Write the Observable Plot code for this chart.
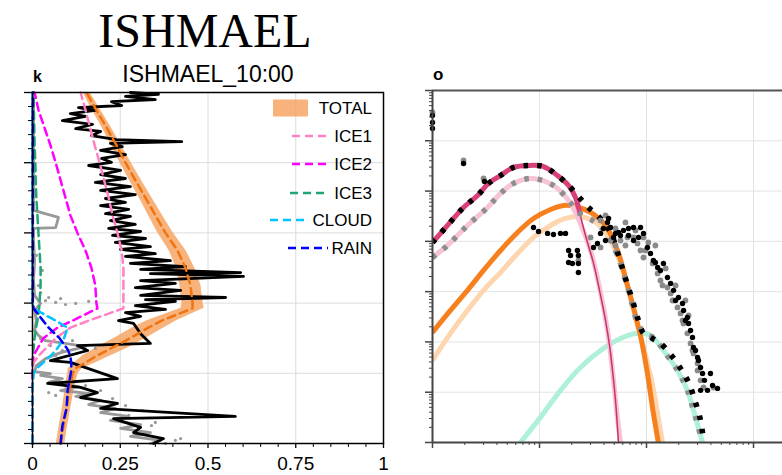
<!DOCTYPE html>
<html><head><meta charset="utf-8">
<script src="https://cdn.jsdelivr.net/npm/d3@7"></script>
<script src="https://cdn.jsdelivr.net/npm/@observablehq/plot@0.6"></script>
<style>
body{margin:0;background:#fff;}
#wrap{position:relative;width:782px;height:475px;overflow:hidden;background:#fff;}
#left{position:absolute;left:0;top:0;width:400px;height:475px;}
#right{position:absolute;left:400px;top:0;width:382px;height:475px;}
#overlay{position:absolute;left:0;top:0;pointer-events:none;}
</style></head>
<body><div id="wrap"><div id="left"></div><div id="right"></div><svg id="overlay" width="782" height="475"></svg></div>
<script>
// ---------- LEFT PANEL DATA (profiles vs level) ----------
const levels   = [0,0.5,1,1.5,2,2.14,2.3,2.5,2.7,3,3.3,3.5,3.85,4,4.5,5,5.5,6,6.5,7,7.5,8,8.5,9,9.5,10];
const totalMid = [0.080,0.088,0.097,0.105,0.115,0.122,0.150,0.183,0.222,0.278,0.330,0.368,0.456,0.456,0.450,0.436,0.413,0.379,0.350,0.322,0.293,0.265,0.239,0.211,0.182,0.154];
const totalLo  = [0.068,0.076,0.085,0.092,0.100,0.102,0.120,0.143,0.177,0.233,0.285,0.326,0.423,0.426,0.420,0.410,0.389,0.357,0.330,0.304,0.276,0.249,0.225,0.198,0.170,0.144];
const totalHi  = [0.092,0.100,0.109,0.118,0.130,0.142,0.180,0.223,0.267,0.323,0.375,0.410,0.489,0.486,0.480,0.462,0.437,0.401,0.370,0.340,0.310,0.281,0.253,0.224,0.194,0.164];
const ice1     = [0,0,0,0,0.002,0.002,0.003,0.017,0.037,0.066,0.108,0.160,0.259,0.259,0.259,0.259,0.254,0.242,0.228,0.217,0.204,0.191,0.177,0.164,0.151,0.137];
const ice2     = [0,0,0,0,0,0,0.001,0.003,0.014,0.031,0.071,0.114,0.185,0.182,0.179,0.168,0.151,0.128,0.108,0.094,0.080,0.066,0.051,0.034,0.017,0.006];
const ice3     = [0,0,0,0,0,0,0,0.001,0.003,0.006,0.010,0.014,0.019,0.020,0.023,0.023,0.020,0.017,0.014,0.011,0.009,0.008,0.006,0.005,0.004,0.003];
const cloud    = [0,0,0,0,0.003,0.012,0.030,0.052,0.070,0.090,0.100,0.066,0.003,0,0,0,0,0,0,0,0,0,0,0,0,0];
const rain     = [0.080,0.085,0.097,0.100,0.109,0.111,0.110,0.108,0.099,0.077,0.046,0.030,0.003,0.001,0.001,0.001,0.001,0.001,0.001,0.001,0.001,0.001,0.001,0.001,0.001,0.001];

// observed profile (black)
const obsH = [0,0.14,0.31,0.46,0.71,0.77,1.00,1.14,1.31,1.45,1.60,1.71,1.85,2.31,2.36,2.65,2.79,2.85,3.13,3.42,3.50,3.62,3.73,3.82,3.93,4.05,4.10,4.16,4.22,4.36,4.44,4.56,4.64,4.76,4.84,4.87,4.96,5.04,5.13,5.21,5.33,5.41,5.53,5.61,5.73,5.84,5.93,6.04,6.13,6.24,6.35,6.47,6.55,6.67,6.78,6.87,6.98,7.09,7.21,7.32,7.44,7.55,7.66,7.78,7.92,8.01,8.12,8.23,8.35,8.46,8.55,8.60,8.66,8.77,8.89,8.97,9.09,9.20,9.32,9.40,9.49,9.57,9.63,9.74,9.80,9.89,9.95,10.0];
const obsX = [0.345,0.373,0.288,0.308,0.231,0.578,0.194,0.242,0.137,0.185,0.137,0.043,0.242,0.108,0.051,0.157,0.128,0.336,0.308,0.288,0.245,0.308,0.265,0.379,0.293,0.407,0.322,0.550,0.308,0.422,0.293,0.407,0.308,0.601,0.336,0.593,0.308,0.436,0.279,0.393,0.265,0.350,0.251,0.336,0.236,0.322,0.228,0.308,0.217,0.293,0.222,0.279,0.208,0.274,0.194,0.265,0.208,0.293,0.194,0.279,0.179,0.265,0.194,0.251,0.160,0.225,0.197,0.265,0.194,0.256,0.222,0.425,0.239,0.168,0.194,0.123,0.171,0.085,0.151,0.108,0.179,0.131,0.254,0.225,0.350,0.265,0.359,0.279];

// second observed profile (grey line + grey dots)
const greyH = [0,0.09,0.20,0.31,0.43,0.54,0.66,0.77,0.88,1.00,1.11,1.23,1.34,1.42,1.51,1.62,1.74,1.85,1.94,1.99,2.05,2.22,2.42,2.59,2.76,2.85,2.93,3.08,3.22,3.50,3.79,3.99,4.22,4.64,5.21,5.78,6.13,6.15,6.44,6.64,7.49,8.35,9.20,10];
const greyX = [0.336,0.365,0.279,0.336,0.251,0.308,0.222,0.274,0.194,0.236,0.160,0.194,0.123,0.165,0.080,0.131,0.046,0.085,0.023,0.051,0.006,0.011,0.037,0.080,0.151,0.094,0.037,0.017,0.006,0.011,0.006,0.023,0.006,0.003,0.006,0.003,0.003,0.066,0.074,0.003,0.003,0.003,0.003,0.003];
const greyDotH = [4.07,4.02,3.96,3.99,4.30,4.50,4.93,5.36,4.16,4.13,4.05,2.79,2.65,2.93,2.71,2.51,2.99,1.45,1.37,1.08,0.80,0.51,0.60,0.09,0,0.94,1.51,1.65,1.28,0.14];
const greyDotX = [0.037,0.066,0.094,0.123,0.023,0.017,0.028,0.011,0.046,0.080,0.160,0.051,0.085,0.114,0.179,0.066,0.023,0.046,0.066,0.265,0.274,0.339,0.350,0.407,0.379,0.313,0.194,0.151,0.228,0.422];

const xTicksLeft = [0,0.25,0.5,0.75,1];
const xTickLabels = ["0","0.25","0.5","0.75","1"];
const yTicksLeft = [0,2,4,6,8,10];

// legend
const legendNames = ["TOTAL","ICE1","ICE2","ICE3","CLOUD","RAIN"];
const colTotalFill = "#f5a05a", colTotalLine = "#f07510";
const colIce1 = "#ff80c4", colIce2 = "#ff00ff", colIce3 = "#22a574", colCloud = "#00c4ff", colRain = "#0000ff";

// ---------- RIGHT PANEL DATA (log-log spectra) ----------
const darkPinkX = [1.0e-3,1.38e-3,1.95e-3,2.64e-3,3.34e-3,4.32e-3,5.72e-3,7.88e-3,1.09e-2,1.47e-2,1.87e-2,2.17e-2,2.41e-2,2.69e-2,3.20e-2,3.72e-2,4.14e-2,4.51e-2,4.81e-2,5.13e-2,5.47e-2];
const darkPinkY = [9.5,20.7,47.2,81.8,142,204,295,323,308,204,129,74.6,32.7,13.1,3.64,0.840,0.267,0.0851,0.0271,0.00687,0.001];
const lightPinkX = [1.0e-3,1.38e-3,2.12e-3,3.27e-3,4.32e-3,5.72e-3,8.24e-3,1.14e-2,1.47e-2,1.87e-2,2.17e-2,2.52e-2,3.00e-2,3.72e-2,4.32e-2,4.92e-2,5.25e-2,5.71e-2];
const lightPinkY = [4.78,8.28,20.7,47.2,89.5,142,178,155,113,65.1,37.6,18.0,6.59,0.964,0.169,0.0172,0.00434,0.001];
const orangeX = [1.0e-3,1.47e-3,2.12e-3,3.00e-3,4.32e-3,6.23e-3,8.79e-3,1.27e-2,1.68e-2,2.17e-2,3.00e-2,4.14e-2,5.36e-2,6.64e-2,7.89e-2,8.98e-2,0.102,0.116,0.129];
const orangeY = [0.155,0.423,1.06,2.64,6.59,15.0,28.5,43.1,51.7,49.4,37.6,20.7,6.59,1.33,0.336,0.107,0.0236,0.00379,0.001];
const peachX = [1.0e-3,1.47e-3,2.12e-3,3.00e-3,4.32e-3,6.23e-3,8.79e-3,1.27e-2,1.75e-2,2.31e-2,3.13e-2,4.14e-2,5.36e-2,6.79e-2,8.24e-2,9.79e-2,0.114,0.127,0.141];
const peachY = [0.0429,0.148,0.423,1.06,2.41,5.74,12.0,20.7,28.5,31.3,26.1,15.0,5.25,1.06,0.213,0.0539,0.0136,0.00379,0.001];
const aquaX = [6.64e-3,1.02e-2,1.57e-2,2.41e-2,3.72e-2,5.71e-2,8.24e-2,0.109,0.144,0.195,0.241,0.275,0.334];
const aquaY = [0.001,0.00316,0.0109,0.0311,0.0678,0.117,0.148,0.135,0.0678,0.0271,0.0109,0.00434,0.001];
const darkTotalX = [1.0e-3,1.38e-3,1.95e-3,2.64e-3,3.34e-3,4.32e-3,5.72e-3,7.88e-3,1.09e-2,1.47e-2,1.87e-2,2.31e-2,2.87e-2,3.72e-2,4.61e-2,5.47e-2,6.36e-2,7.40e-2,8.42e-2,9.37e-2,0.109,0.135,0.168,0.208,0.247,0.287,0.320,0.341];
const darkTotalY = [9.5,20.7,47.2,81.8,142,204,295,323,308,204,129,78.1,47.2,28.5,15.0,5.25,1.83,0.668,0.267,0.148,0.123,0.0933,0.0564,0.0297,0.0157,0.00627,0.00275,0.00110];
const lightTotalX = [1.0e-3,1.38e-3,2.12e-3,3.27e-3,4.32e-3,5.72e-3,8.24e-3,1.14e-2,1.47e-2,1.87e-2,2.31e-2,3.13e-2,4.14e-2,5.36e-2,6.79e-2,8.24e-2,9.79e-2,0.121,0.144,0.195,0.241,0.275,0.334];
const lightTotalY = [4.78,8.28,20.7,47.2,89.5,142,178,155,113,65.1,37.6,26.1,15.0,5.25,1.06,0.244,0.141,0.117,0.0678,0.0271,0.0109,0.00434,0.001];
const obsBlackX = [1.0e-3,1.0e-3,1.0e-3,1.95e-3,3.06e-3,8.79e-3,9.79e-3,1.19e-2,1.35e-2,1.57e-2,1.75e-2,1.87e-2,1.95e-2,1.87e-2,2.03e-2,2.31e-2,2.31e-2,2.31e-2,2.26e-2,3.20e-2,3.48e-2,3.72e-2,3.96e-2,4.32e-2,4.42e-2,4.61e-2,5.13e-2,5.47e-2,6.09e-2,6.79e-2,7.56e-2,8.79e-2,9.37e-2,8.42e-2,7.56e-2,0.102,0.109,0.116,0.127,0.144,0.157,0.168,0.179,0.199,0.217,0.222,0.241,0.247,0.258,0.269,0.275,0.300,0.320,0.334,0.396,0.320,0.372,0.461,
  4.14e-2,4.92e-2,5.71e-2,6.79e-2,0.121,0.135,0.187,0.231,0.287,0.306,0.348,0.414];
const obsBlackY = [3190,2310,1760,354,155,18.9,15.7,14.4,13.7,14.4,14.4,6.59,5.25,3.80,3.64,5.25,3.64,2.41,6.59,7.57,9.08,14.4,18.0,23.8,28.5,18.9,14.4,15.0,16.5,18.0,18.9,18.9,14.4,12.0,10.4,7.57,5.74,4.17,3.03,3.64,1.91,1.46,1.06,0.767,0.582,0.423,0.307,0.233,0.169,0.123,0.0778,0.0492,0.0311,0.0236,0.0236,0.0109,0.0109,0.0119,
  10.4,12.0,13.1,13.1,3.80,2.64,0.668,0.267,0.0678,0.0429,0.0172,0.0136];
const obsGreyX = [1.0e-3,1.95e-3,3.00e-3,3.72e-2,4.61e-2,5.71e-2,6.64e-2,7.56e-2,8.24e-2,8.79e-2,9.37e-2,0.114,0.127,0.135,0.157,0.168,0.179,0.195,0.208,0.222,0.241,0.258,0.275,0.300,0.320,0.341,0.423,9.37e-2,0.104,2.31e-2,3.72e-2,3.00e-2,4.14e-2,5.13e-2,6.36e-2,7.89e-2,0.121,0.151,0.187,0.231,0.247,
  5.13e-2,6.36e-2,9.79e-2,0.141,0.175,0.217,0.269,0.300];
const obsGreyY = [3660,406,178,26.1,10.4,10.4,12.0,12.0,9.08,6.59,4.78,3.64,2.30,1.67,1.21,0.920,0.668,0.485,0.369,0.233,0.148,0.0933,0.0590,0.0374,0.0172,0.0124,0.0124,12.0,9.51,4.17,7.57,12.0,32.7,18.0,23.8,16.5,8.28,2.89,1.33,0.668,0.336,
  8.28,8.28,6.59,1.33,0.668,0.267,0.0678,0.0271];

// ---------- build rows ----------
const prof = levels.map((h,i)=>({h, mid: totalMid[i], lo: totalLo[i], hi: totalHi[i], ice1: ice1[i], ice2: ice2[i], ice3: ice3[i], cloud: cloud[i], rain: rain[i]}));
const obsRows = obsH.map((h,i)=>({h, x: obsX[i]}));
const greyRows = greyH.map((h,i)=>({h, x: greyX[i]}));
const greyDotRows = greyDotH.map((h,i)=>({h, x: greyDotX[i]}));
const pairs = (xs, ys) => xs.map((x,i)=>({x, y: ys[i]}));

const font = "'Liberation Sans', Arial, Helvetica, sans-serif";
const dash = {strokeWidth: 2.5, strokeDasharray: "8,5"};
const xMinorLeft = d3.range(0.05, 1, 0.05).map(v=>+v.toFixed(2)).filter(v=>!xTicksLeft.includes(v));
const yMinorLeft = d3.range(0.4, 10, 0.4).map(v=>+v.toFixed(1)).filter(v=>!yTicksLeft.includes(v));

const left = Plot.plot({
  width: 400, height: 475,
  marginLeft: 32, marginRight: 17, marginTop: 92, marginBottom: 32,
  x: {domain: [0,1], label: null},
  y: {domain: [0,10], label: null},
  style: {fontFamily: font, fontSize: "19px", color: "#000", background: "transparent", overflow: "visible"},
  marks: [
    Plot.gridX([0.25,0.5,0.75], {stroke: "#dcdcdc", strokeOpacity: 1, strokeWidth: 1}),
    Plot.gridY([2,4,6,8], {stroke: "#dcdcdc", strokeOpacity: 1, strokeWidth: 1}),
    Plot.areaX(prof, {y: "h", x1: "lo", x2: "hi", fill: colTotalFill, fillOpacity: 0.8}),
    Plot.line(greyRows, {x: "x", y: "h", stroke: "#999", strokeWidth: 2.8}),
    Plot.dot(greyDotRows, {x: "x", y: "h", r: 1.6, fill: "#999", stroke: "none"}),
    Plot.line(obsRows, {x: "x", y: "h", stroke: "#000", strokeWidth: 2.8}),
    Plot.line(prof, {x: "mid", y: "h", stroke: colTotalLine, ...dash}),
    Plot.line(prof, {x: "ice3", y: "h", stroke: colIce3, ...dash}),
    Plot.line(prof, {x: "ice2", y: "h", stroke: colIce2, ...dash}),
    Plot.line(prof, {x: "ice1", y: "h", stroke: colIce1, ...dash}),
    Plot.line(prof, {x: "cloud", y: "h", stroke: colCloud, ...dash}),
    Plot.line(prof, {x: "rain", y: "h", stroke: colRain, ...dash}),
    Plot.frame({stroke: "#000", strokeWidth: 1.5}),
    Plot.axisX(xTicksLeft, {tickSize: 5, tickPadding: 8, tickFormat: d => xTickLabels[xTicksLeft.indexOf(d)], fontSize: 19, label: null, strokeWidth: 1.3}),
    Plot.axisX(xMinorLeft, {tickSize: 4, tickFormat: () => "", label: null, strokeWidth: 1}),
    Plot.axisY(yTicksLeft, {tickSize: 8, tickFormat: () => "", label: null, strokeWidth: 1.3}),
    Plot.axisY(yMinorLeft, {tickSize: 4, tickFormat: () => "", label: null, strokeWidth: 1})
  ]
});
document.getElementById("left").appendChild(left);

// right panel ticks
const xMajorR = [1e-3,1e-2,1e-1,1];
const yMajorR = [1e-3,1e-2,1e-1,1,10,100,1000,10000];
const xMinorR = [], yMinorR = [];
for (let d=-3; d<=0; d++) for (let k=2; k<=9; k++) { const v = k*Math.pow(10,d); if (v < 1.86) xMinorR.push(v); }
for (let d=-3; d<=3; d++) for (let k=2; k<=9; k++) yMinorR.push(k*Math.pow(10,d));

const thickOpt = {strokeWidth: 5, curve: "catmull-rom", clip: true, strokeLinecap: "butt"};
const dotted = {strokeWidth: 5.5, strokeDasharray: "4.5,9", curve: "catmull-rom", clip: true, strokeLinecap: "butt"};
const right = Plot.plot({
  width: 382, height: 475,
  marginLeft: 32, marginRight: 0, marginTop: 90, marginBottom: 33,
  x: {type: "log", domain: [1e-3, 1.866], label: null},
  y: {type: "log", domain: [1e-3, 1e4], label: null},
  style: {fontFamily: font, background: "transparent", overflow: "visible"},
  marks: [
    Plot.gridX([1e-2,1e-1,1], {stroke: "#e3e3e3", strokeOpacity: 1, strokeWidth: 1}),
    Plot.gridY([1e-2,1e-1,1,10,100,1000], {stroke: "#e3e3e3", strokeOpacity: 1, strokeWidth: 1}),
    Plot.line(pairs(aquaX, aquaY), {x: "x", y: "y", stroke: "#aef0d8", ...thickOpt}),
    Plot.line(pairs(peachX, peachY), {x: "x", y: "y", stroke: "#fdd6b0", ...thickOpt}),
    Plot.line(pairs(orangeX, orangeY), {x: "x", y: "y", stroke: "#f7801e", ...thickOpt}),
    Plot.line(pairs(lightPinkX, lightPinkY), {x: "x", y: "y", stroke: "#f7c3d6", ...thickOpt}),
    Plot.line(pairs(darkPinkX, darkPinkY).slice(0, 13), {x: "x", y: "y", stroke: "#d9407a", ...thickOpt}),
    Plot.line(pairs(darkPinkX, darkPinkY).slice(12), {x: "x", y: "y", stroke: "#c8336e", strokeWidth: 1.5, curve: "catmull-rom", clip: true}),
    Plot.line(pairs(lightTotalX, lightTotalY), {x: "x", y: "y", stroke: "#8e8e8e", ...dotted}),
    Plot.line(pairs(darkTotalX, darkTotalY), {x: "x", y: "y", stroke: "#000", ...dotted}),
    Plot.dot(pairs(obsGreyX, obsGreyY), {x: "x", y: "y", r: 2.9, fill: "#8a8a8a", stroke: "none"}),
    Plot.dot(pairs(obsBlackX, obsBlackY), {x: "x", y: "y", r: 2.7, fill: "#000", stroke: "none"}),
    Plot.ruleY([1e4], {stroke: "#555", strokeWidth: 2}),
    Plot.ruleY([1e-3], {stroke: "#444", strokeWidth: 2}),
    Plot.ruleX([1e-3], {stroke: "#444", strokeWidth: 2}),
    Plot.axisX(xMajorR, {tickSize: 6, tickFormat: () => "", label: null, stroke: "#444", strokeWidth: 1.5}),
    Plot.axisX(xMinorR, {tickSize: 3, tickFormat: () => "", label: null, stroke: "#444", strokeWidth: 1}),
    Plot.axisY(yMajorR, {tickSize: 7, tickFormat: () => "", label: null, stroke: "#444", strokeWidth: 1.5}),
    Plot.axisY(yMinorR, {tickSize: 3, tickFormat: () => "", label: null, stroke: "#444", strokeWidth: 1})
  ]
});
document.getElementById("right").appendChild(right);

// ---------- overlay texts and legend ----------
const ov = d3.select("#overlay");
ov.append("text").attr("x", 205).attr("y", 47).attr("text-anchor", "middle")
  .attr("font-family", "'Liberation Serif', 'Times New Roman', serif").attr("font-size", 48).text("ISHMAEL");
ov.append("text").attr("x", 208).attr("y", 82).attr("text-anchor", "middle")
  .attr("font-family", font).attr("font-size", 23).text("ISHMAEL_10:00");
ov.append("text").attr("x", 33).attr("y", 82).attr("font-family", font).attr("font-weight", "bold").attr("font-size", 16).text("k");
ov.append("text").attr("x", 433).attr("y", 80).attr("font-family", font).attr("font-weight", "bold").attr("font-size", 17).text("o");

const legendY = [108, 136, 164, 193, 220, 248];
const legendColors = [colTotalFill, colIce1, colIce2, colIce3, colCloud, colRain];
const legendLineX = [[273,308],[292,328],[292,328],[290,328],[270,307],[288,328]];
legendNames.forEach((name, i) => {
  const y = legendY[i];
  if (i === 0) {
    ov.append("rect").attr("x", 273).attr("y", y - 8.5).attr("width", 35).attr("height", 17)
      .attr("fill", colTotalFill).attr("fill-opacity", 0.8);
  } else {
    ov.append("line").attr("x1", legendLineX[i][0]).attr("x2", legendLineX[i][1]).attr("y1", y).attr("y2", y)
      .attr("stroke", legendColors[i]).attr("stroke-width", 2.5).attr("stroke-dasharray", "8,5");
  }
  ov.append("text").attr("x", 372).attr("y", y + 6).attr("text-anchor", "end")
    .attr("font-family", font).attr("font-size", 17).attr("fill", "#000").text(name);
});
</script>
</body></html>
